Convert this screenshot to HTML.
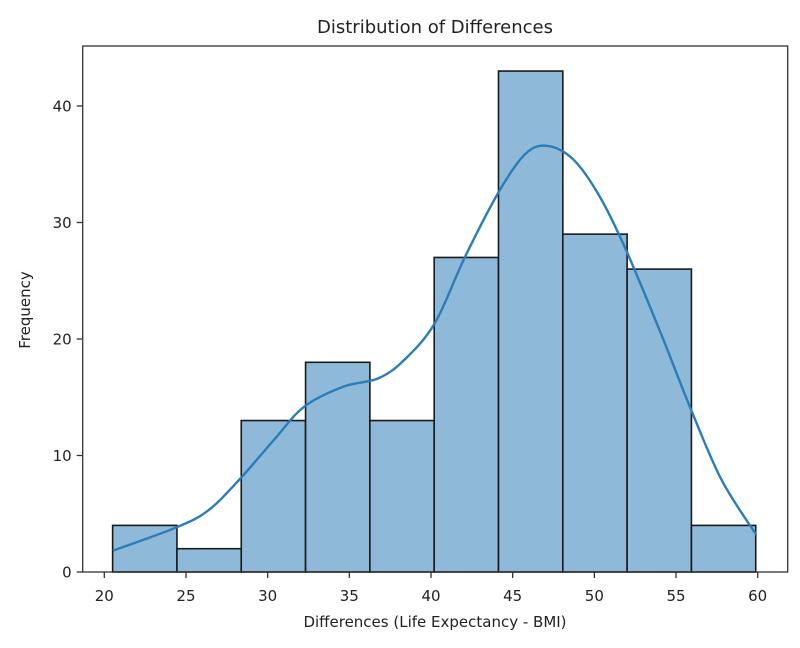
<!DOCTYPE html>
<html><head><meta charset="utf-8"><style>
html,body{margin:0;padding:0;background:#fff;}
svg{display:block;font-family:"DejaVu Sans","Liberation Sans",sans-serif;}
</style></head><body>
<svg id="chart" width="800" height="648" viewBox="0 0 800 648"></svg>
<script>
const binStart = 20.51;
const binWidth = 3.937;
const counts = [4, 2, 13, 18, 13, 27, 43, 29, 26, 4];
const kdeX = [20.53, 24.52, 26.39, 28.25, 30.38, 32.24, 34.64, 36.77, 38.36, 40.23, 42.09, 44.22, 45.82, 47.15, 48.74, 50.34, 51.94, 54.07, 55.93, 57.79, 59.92];
const kdeY = [1.83, 3.89, 5.32, 7.9, 11.33, 14.19, 15.91, 16.62, 18.2, 21.35, 27.07, 32.8, 35.94, 36.57, 35.37, 32.2, 27.64, 20.49, 13.9, 7.9, 3.18];
const xTicks = [20, 25, 30, 35, 40, 45, 50, 55, 60];
const yTicks = [0, 10, 20, 30, 40];

const NS = "http://www.w3.org/2000/svg";
const svg = document.getElementById('chart');
const L = 82.7, R = 787.7, T = 46, B = 572;
const xs = v => 104.3 + (v - 20) * 16.335;
const ys = v => B - v * 11.65;
function mk(tag, attrs, parent) {
  const e = document.createElementNS(NS, tag);
  for (const k in attrs) e.setAttribute(k, attrs[k]);
  (parent || svg).appendChild(e);
  return e;
}
const bars = mk('g', {});


counts.forEach((c, i) => {
  const x0 = xs(binStart + i * binWidth), x1 = xs(binStart + (i + 1) * binWidth);
  const r = mk('rect', {x: x0, y: ys(c), width: x1 - x0, height: B - ys(c), fill: '#8fb9d9', stroke: '#1a1a1a', 'stroke-width': 1.6}, bars);
  
  
});
const pts = kdeX.map((x, i) => [xs(x), ys(kdeY[i])]);
let d = 'M' + pts[0][0] + ',' + pts[0][1];
for (let i = 0; i < pts.length - 1; i++) {
  const p0 = pts[Math.max(0, i - 1)], p1 = pts[i], p2 = pts[i + 1], p3 = pts[Math.min(pts.length - 1, i + 2)];
  const c1 = [p1[0] + (p2[0] - p0[0]) / 6, p1[1] + (p2[1] - p0[1]) / 6];
  const c2 = [p2[0] - (p3[0] - p1[0]) / 6, p2[1] - (p3[1] - p1[1]) / 6];
  d += ' C' + c1 + ' ' + c2 + ' ' + p2;
}
const kde = mk('path', {d: d, fill: 'none', stroke: '#2a7db8', 'stroke-width': 2.4});


const frame = mk('rect', {x: L, y: T, width: R - L, height: B - T, fill: 'none', stroke: '#333', 'stroke-width': 1.3});


xTicks.forEach(v => {
  mk('line', {x1: xs(v), x2: xs(v), y1: B, y2: B + 6, stroke: '#333', 'stroke-width': 1.3});
  const t = mk('text', {x: xs(v), y: B + 29, 'text-anchor': 'middle', 'font-size': 15, fill: '#222'});
  t.textContent = v;
  
  
});
yTicks.forEach(v => {
  mk('line', {x1: L - 6, x2: L, y1: ys(v), y2: ys(v), stroke: '#333', 'stroke-width': 1.3});
  const t = mk('text', {x: L - 11, y: ys(v) + 5.5, 'text-anchor': 'end', 'font-size': 15, fill: '#222'});
  t.textContent = v;
  
  
});
const title = mk('text', {x: 435, y: 33, 'text-anchor': 'middle', 'font-size': 18, fill: '#222'});
title.textContent = 'Distribution of Differences';


const xl = mk('text', {x: 435, y: 627, 'text-anchor': 'middle', 'font-size': 15, fill: '#222'});
xl.textContent = 'Differences (Life Expectancy - BMI)';


const yl = mk('text', {x: 0, y: 0, 'text-anchor': 'middle', 'font-size': 15, fill: '#222', transform: 'translate(30,310) rotate(-90)'});
yl.textContent = 'Frequency';


</script>
</body></html>
